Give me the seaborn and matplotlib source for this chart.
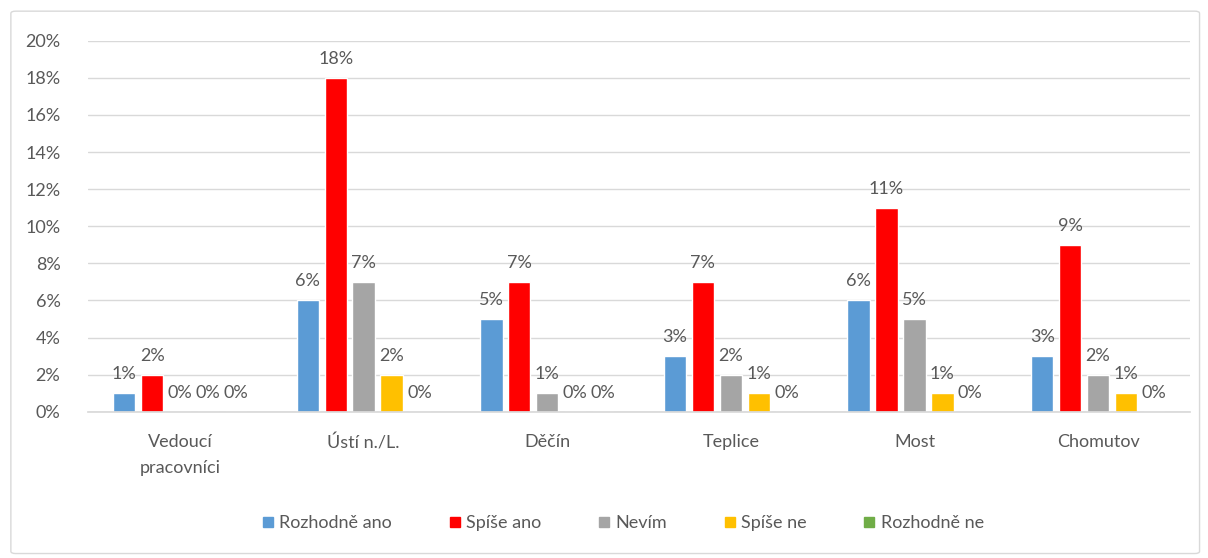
import matplotlib
matplotlib.use("Agg")
import matplotlib.pyplot as plt
import matplotlib.patches as mpatches
import pandas as pd
import seaborn as sns

categories = ["Vedoucí\npracovníci", "Ústí n./L.", "Děčín", "Teplice", "Most", "Chomutov"]
series = ["Rozhodně ano", "Spíše ano", "Nevím", "Spíše ne", "Rozhodně ne"]
rozhodne_ano = [1, 6, 5, 3, 6, 3]
spise_ano = [2, 18, 7, 7, 11, 9]
nevim = [0, 7, 1, 2, 5, 2]
spise_ne = [0, 2, 0, 1, 1, 1]
rozhodne_ne = [0, 0, 0, 0, 0, 0]
colors = ["#5B9BD5", "#FF0000", "#A5A5A5", "#FFC000", "#70AD47"]
y_ticks = [0, 2, 4, 6, 8, 10, 12, 14, 16, 18, 20]

values = [rozhodne_ano, spise_ano, nevim, spise_ne, rozhodne_ne]
rows = []
for name, vals in zip(series, values):
    for cat, v in zip(categories, vals):
        rows.append({"kategorie": cat, "odpoved": name, "podil": v})
df = pd.DataFrame(rows)

sns.set_theme(style="white")
plt.rcParams["font.family"] = ["Lato", "DejaVu Sans"]
text_col = "#595959"
fs = 13

fig = plt.figure(figsize=(12.08, 5.58), dpi=100)
ax = fig.add_axes([0.073, 0.262, 0.912, 0.665])

sns.barplot(data=df, x="kategorie", y="podil", hue="odpoved",
            order=categories, hue_order=series, palette=colors,
            width=0.76, gap=0.2, ax=ax, legend=True, saturation=1)

for cont in ax.containers:
    ax.bar_label(cont, labels=[f"{int(round(b.get_height()))}%" for b in cont],
                 padding=8, fontsize=fs, color=text_col)

ax.set_ylim(0, 20)
ax.set_yticks(y_ticks)
ax.set_yticklabels([f"{t}%" for t in y_ticks])
ax.yaxis.grid(True, color="#D9D9D9", linewidth=1)
ax.set_axisbelow(True)
ax.set_xlabel("")
ax.set_ylabel("")
for s in ["top", "right", "left"]:
    ax.spines[s].set_visible(False)
ax.spines["bottom"].set_color("#D9D9D9")
ax.tick_params(axis="both", colors=text_col, labelsize=fs, length=0)
ax.tick_params(axis="x", pad=16)
ax.tick_params(axis="y", pad=20)
for lbl in ax.get_xticklabels():
    lbl.set_linespacing(1.75)

ax.legend_.remove()
handles = [mpatches.Patch(color=c) for c in colors]
leg = fig.legend(handles, series, loc="center", bbox_to_anchor=(0.516, 0.062),
                 ncol=5, frameon=False, fontsize=fs, handlelength=0.55,
                 handleheight=0.55, handletextpad=0.35, columnspacing=3.2)
for t in leg.get_texts():
    t.set_color(text_col)

border = mpatches.FancyBboxPatch((0.009, 0.008), 0.984, 0.972,
                                 boxstyle="round,pad=0,rounding_size=0.004",
                                 transform=fig.transFigure, fill=False,
                                 edgecolor="#D9D9D9", linewidth=1)
fig.patches.append(border)

fig.savefig("out.png", dpi=100)
